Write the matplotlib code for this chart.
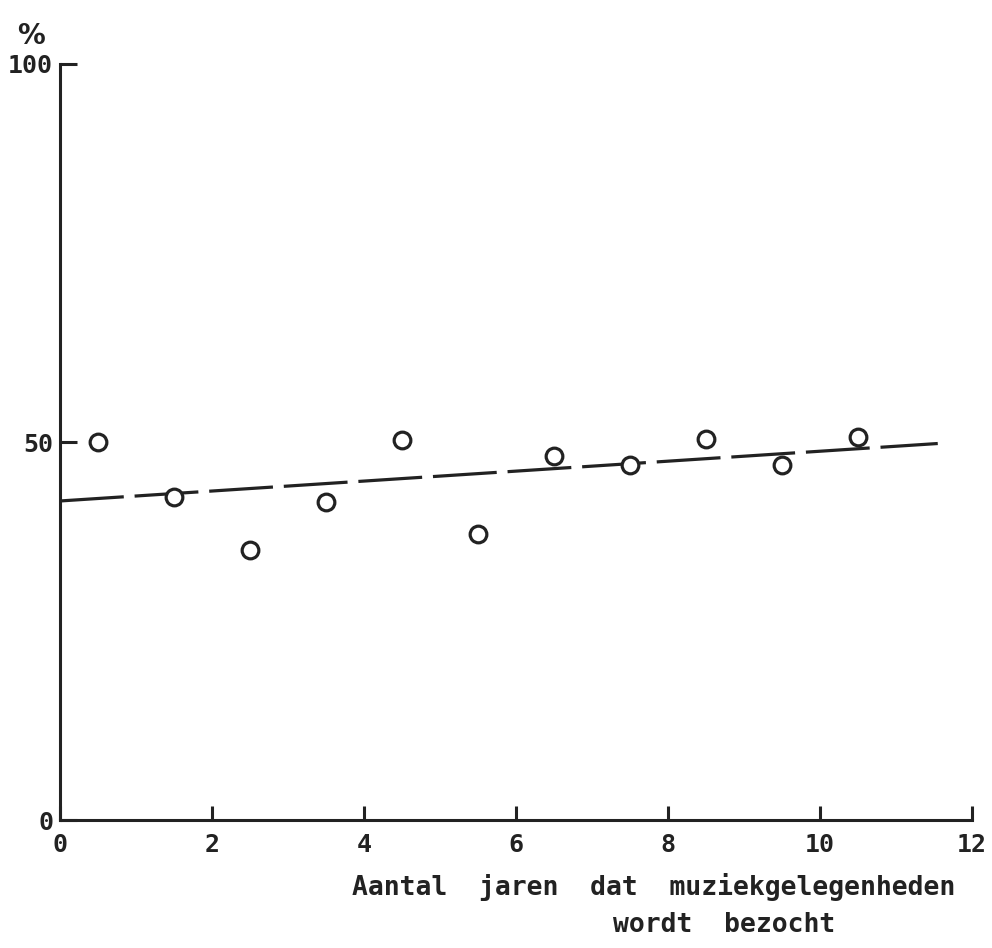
import matplotlib.pyplot as plt
import numpy as np

# jaren bezocht (klasse-midden) en percentage
years = [0.5, 1.5, 2.5, 3.5, 4.5, 5.5, 6.5, 7.5, 8.5, 9.5, 10.5]
pct = [50.0, 42.7, 35.7, 42.0, 50.2, 37.8, 48.2, 47.0, 50.4, 46.9, 50.6]

# regressielijn (begin- en eindpunt)
trend_x = [0.0, 11.55]
trend_y = [42.2, 49.8]

xticks = [0, 2, 4, 6, 8, 10, 12]
yticks = [0, 50, 100]

ink = '#222222'
font = {'family': 'DejaVu Sans Mono', 'weight': 'bold', 'color': ink}

fig = plt.figure(figsize=(9.92, 9.48), dpi=100)
ax = fig.add_axes([0.0605, 0.135, 0.9193, 0.7975])

ax.plot(trend_x, trend_y, color=ink, lw=2.3, dashes=(20, 3.4), dash_capstyle='butt')
ax.plot(years, pct, 'o', ms=12, mfc='white', mec=ink, mew=2.3, zorder=3)

ax.set_xlim(0, 12)
ax.set_ylim(0, 100)
ax.spines['top'].set_visible(False)
ax.spines['right'].set_visible(False)
for s in ('left', 'bottom'):
    ax.spines[s].set_linewidth(2.2)
    ax.spines[s].set_color(ink)

ax.set_xticks(xticks)
ax.set_yticks(yticks)
ax.set_xticklabels([str(v) for v in xticks], fontdict=font, fontsize=18)
ax.set_yticklabels([str(v) for v in yticks], fontdict=font, fontsize=18)
ax.tick_params(axis='x', direction='in', length=10, width=2.2, color=ink, pad=9)
ax.tick_params(axis='y', direction='in', length=12, width=2.2, color=ink, pad=5)

fig.text(31 / 992, 1 - 36 / 948, '%', ha='center', va='center', fontsize=20,
         family='DejaVu Sans', weight='bold', color=ink)
fig.text(352 / 992, 1 - 887 / 948, 'Aantal  jaren  dat  muziekgelegenheden',
         ha='left', va='center', fontsize=19, **font)
fig.text(613 / 992, 1 - 925 / 948, 'wordt  bezocht',
         ha='left', va='center', fontsize=19, **font)

fig.savefig('out.png', dpi=100)
